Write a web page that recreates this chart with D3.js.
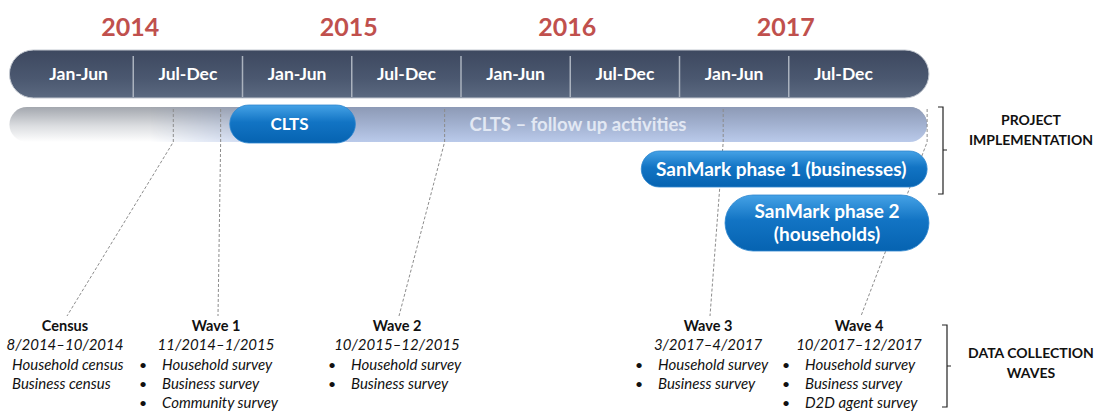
<!DOCTYPE html>
<html>
<head>
<meta charset="utf-8">
<script src="https://cdn.jsdelivr.net/npm/d3@7"></script>
<style>
  body { margin: 0; background: #fff; }
  text { font-family: Lato, "Open Sans", sans-serif; }
</style>
</head>
<body>
<svg id="chart" width="1095" height="412"></svg>
<script>
// time is counted in months from Jan 2014
var years = [2014, 2015, 2016, 2017];
var periods = ["Jan-Jun", "Jul-Dec", "Jan-Jun", "Jul-Dec", "Jan-Jun", "Jul-Dec", "Jan-Jun", "Jul-Dec"];
var timelineSpan = [-0.8, 49.7];

var activities = ["CLTS \u2013 follow up activities", "CLTS", "SanMark phase 1 (businesses)", "SanMark phase 2|(households)"];
var actStart = [-0.8, 11.3, 33.9, 38.5];
var actEnd = [49.6, 18.2, 49.6, 49.7];

var waves = ["Census", "Wave 1", "Wave 2", "Wave 3", "Wave 4"];
var waveDates = ["8/2014\u201310/2014", "11/2014\u20131/2015", "10/2015\u201312/2015", "3/2017\u20134/2017", "10/2017\u201312/2017"];
var waveItems = [
  ["Household census", "Business census"],
  ["Household survey", "Business survey", "Community survey"],
  ["Household survey", "Business survey"],
  ["Household survey", "Business survey"],
  ["Household survey", "Business survey", "D2D agent survey"]
];
var waveBullets = [false, true, true, true, true];
var waveMonth = [8.2, 10.8, 23.1, 38.4, 49.6];

// layout
var rows = [
  {top: 107, h: 35},   // follow up
  {top: 105, h: 38},   // CLTS
  {top: 151, h: 36},   // SanMark 1
  {top: 195, h: 56}    // SanMark 2
];
var labelX = [65, 216, 397, 708, 859];
var itemX = [12, 162, 351, 658, 805];

var svg = d3.select("#chart");
var x = d3.scaleLinear().domain([0, 48]).range([24, 898]);

var defs = svg.append("defs");
function vgrad(id, stops) {
  var g = defs.append("linearGradient").attr("id", id)
    .attr("x1", 0).attr("y1", 0).attr("x2", 0).attr("y2", 1);
  stops.forEach(function(s) {
    g.append("stop").attr("offset", s[0]).attr("stop-color", s[1]);
  });
}
vgrad("gDark", [[0, "#3d485f"], [0.6, "#4b5870"], [1, "#5b6980"]]);
vgrad("gGray", [[0, "#a3a7ae"], [0.55, "#dcdee1"], [1, "#ffffff"]]);
vgrad("gLight", [[0, "#8d9ab6"], [0.5, "#a2b1d0"], [1, "#bacaea"]]);
vgrad("gBlue", [[0, "#45a2e6"], [0.45, "#1274c4"], [1, "#0663b1"]]);

var fade = defs.append("linearGradient").attr("id", "gFade")
  .attr("gradientUnits", "userSpaceOnUse")
  .attr("x1", 150).attr("x2", 300).attr("y1", 0).attr("y2", 0);
fade.append("stop").attr("offset", 0).attr("stop-color", "#000");
fade.append("stop").attr("offset", 1).attr("stop-color", "#fff");
defs.append("mask").attr("id", "mFade")
  .append("rect").attr("x", 0).attr("y", 0).attr("width", 1095).attr("height", 412)
  .attr("fill", "url(#gFade)");

// year labels
svg.selectAll(".year").data(years).enter().append("text")
  .attr("x", function(d, i) { return x(i * 12 + 6) - 3; })
  .attr("y", 36)
  .attr("text-anchor", "middle")
  .attr("font-size", 25).attr("font-weight", "bold")
  .attr("fill", "#c0504d")
  .text(function(d) { return d; });

// dark timeline bar
svg.append("rect")
  .attr("x", x(timelineSpan[0])).attr("y", 50)
  .attr("width", x(timelineSpan[1]) - x(timelineSpan[0])).attr("height", 48)
  .attr("rx", 24)
  .attr("fill", "url(#gDark)")
  .attr("stroke", "#c3c8d0").attr("stroke-width", 1);

svg.selectAll(".div").data(d3.range(1, periods.length)).enter().append("line")
  .attr("x1", function(d) { return x(d * 6); })
  .attr("x2", function(d) { return x(d * 6); })
  .attr("y1", 56).attr("y2", 97)
  .attr("stroke", "#aab2be").attr("stroke-width", 1.5);

svg.selectAll(".period").data(periods).enter().append("text")
  .attr("x", function(d, i) { return x(i * 6 + 3); })
  .attr("y", 80)
  .attr("text-anchor", "middle")
  .attr("font-size", 17.5).attr("font-weight", "bold")
  .attr("fill", "#ffffff")
  .text(function(d) { return d; });

// follow up bar: grey fading into light blue
var r0 = rows[0];
var fw = x(actEnd[0]) - x(actStart[0]);
svg.append("rect")
  .attr("x", x(actStart[0])).attr("y", r0.top).attr("width", fw).attr("height", r0.h)
  .attr("rx", r0.h / 2).attr("fill", "url(#gGray)");
svg.append("rect")
  .attr("x", x(actStart[0])).attr("y", r0.top).attr("width", fw).attr("height", r0.h)
  .attr("rx", r0.h / 2).attr("fill", "url(#gLight)")
  .attr("mask", "url(#mFade)");

// dashed connectors
svg.selectAll(".conn").data(waveMonth).enter().append("path")
  .attr("d", function(d, i) {
    return "M" + x(d) + ",109 L" + x(d) + ",142 L" + (labelX[i] + 2) + ",316";
  })
  .attr("fill", "none")
  .attr("stroke", "#8c8c8c").attr("stroke-width", 1)
  .attr("stroke-dasharray", "3,2");

// follow up text
svg.append("text")
  .attr("x", 578).attr("y", r0.top + r0.h / 2)
  .attr("dy", "0.36em").attr("text-anchor", "middle")
  .attr("font-size", 18.5).attr("font-weight", "bold")
  .attr("fill", "#e2e8f3")
  .text(activities[0]);

// blue activity bars
var blue = [1, 2, 3];
svg.selectAll(".act").data(blue).enter().append("rect")
  .attr("x", function(d) { return x(actStart[d]); })
  .attr("y", function(d) { return rows[d].top; })
  .attr("width", function(d) { return x(actEnd[d]) - x(actStart[d]); })
  .attr("height", function(d) { return rows[d].h; })
  .attr("rx", function(d) { return rows[d].h / 2; })
  .attr("fill", "url(#gBlue)")
  .attr("stroke", "#2d86cf").attr("stroke-width", 0.8);

blue.forEach(function(d) {
  var lines = activities[d].split("|");
  var cx = (x(actStart[d]) + x(actEnd[d])) / 2 + (d === 3 ? 0 : -3);
  var cy = rows[d].top + rows[d].h / 2;
  lines.forEach(function(t, j) {
    svg.append("text")
      .attr("x", cx)
      .attr("y", cy + (j - (lines.length - 1) / 2) * 23)
      .attr("dy", "0.36em").attr("text-anchor", "middle")
      .attr("font-size", d === 1 ? 17 : 19).attr("font-weight", "bold")
      .attr("fill", "#ffffff")
      .text(t);
  });
});

// brackets
function bracket(bx, y0, y1, ym) {
  svg.append("path")
    .attr("d", "M" + (bx - 5) + "," + y0 + " H" + bx + " V" + y1 + " H" + (bx - 5) +
      " M" + bx + "," + ym + " H" + (bx + 4))
    .attr("fill", "none").attr("stroke", "#222").attr("stroke-width", 1.2);
}
bracket(943, 107, 194, 150);
bracket(947, 325, 407, 366);

function sideLabel(lines, cy) {
  lines.forEach(function(t, j) {
    svg.append("text")
      .attr("x", 1031).attr("y", cy + (j - (lines.length - 1) / 2) * 20)
      .attr("dy", "0.36em").attr("text-anchor", "middle")
      .attr("font-size", 14).attr("font-weight", "bold")
      .attr("fill", "#111")
      .text(t);
  });
}
sideLabel(["PROJECT", "IMPLEMENTATION"], 129.5);
sideLabel(["DATA COLLECTION", "WAVES"], 362.5);

// wave text blocks
var lineH = 19.3;
var top0 = 331;
waves.forEach(function(w, i) {
  var g = svg.append("g");
  g.append("text")
    .attr("x", labelX[i]).attr("y", top0)
    .attr("text-anchor", "middle")
    .attr("font-size", 14.5).attr("font-weight", "bold").attr("fill", "#111")
    .text(w);
  g.append("text")
    .attr("x", labelX[i]).attr("y", top0 + lineH)
    .attr("text-anchor", "middle")
    .attr("font-size", 15).attr("font-style", "italic").attr("fill", "#111")
    .text(waveDates[i]);
  waveItems[i].forEach(function(t, j) {
    var yy = top0 + lineH * (j + 2);
    if (waveBullets[i]) {
      g.append("text")
        .attr("x", itemX[i] - 19).attr("y", yy)
        .attr("text-anchor", "middle")
        .attr("font-size", 14).attr("fill", "#111")
        .text("\u2022");
    }
    g.append("text")
      .attr("x", itemX[i]).attr("y", yy)
      .attr("font-size", 15).attr("font-style", "italic").attr("fill", "#111")
      .text(t);
  });
});
</script>
</body>
</html>
